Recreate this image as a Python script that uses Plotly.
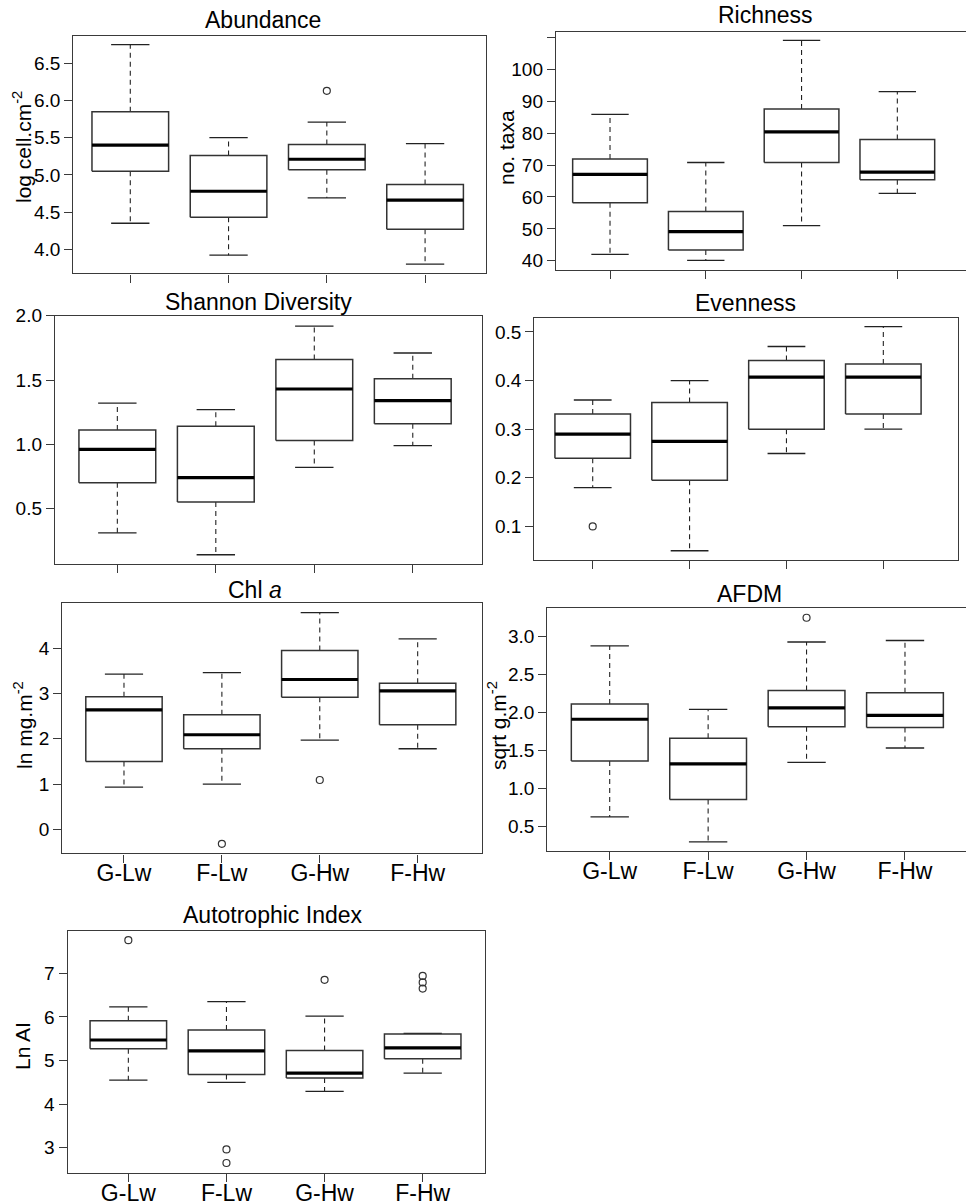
import plotly.graph_objects as go

W, H = 966, 1204
groups = ["G-Lw", "F-Lw", "G-Hw", "F-Hw"]

# ---------------- data ----------------
abund_lo = [4.35, 3.92, 4.69, 3.80]
abund_q1 = [5.05, 4.43, 5.07, 4.27]
abund_med = [5.40, 4.78, 5.21, 4.66]
abund_q3 = [5.85, 5.26, 5.41, 4.87]
abund_hi = [6.75, 5.50, 5.71, 5.42]
abund_out = [[], [], [6.13], []]

rich_lo = [42.0, 40.1, 51.0, 61.1]
rich_q1 = [58.2, 43.4, 70.8, 65.4]
rich_med = [67.1, 49.1, 80.4, 67.8]
rich_q3 = [71.9, 55.4, 87.6, 78.0]
rich_hi = [85.9, 70.8, 109.1, 93.0]
rich_out = [[], [], [], []]

shan_lo = [0.31, 0.14, 0.82, 0.99]
shan_q1 = [0.70, 0.55, 1.03, 1.16]
shan_med = [0.96, 0.74, 1.43, 1.34]
shan_q3 = [1.11, 1.14, 1.66, 1.51]
shan_hi = [1.32, 1.27, 1.92, 1.71]
shan_out = [[], [], [], []]

even_lo = [0.18, 0.05, 0.25, 0.30]
even_q1 = [0.24, 0.195, 0.30, 0.331]
even_med = [0.29, 0.275, 0.407, 0.407]
even_q3 = [0.331, 0.355, 0.441, 0.434]
even_hi = [0.36, 0.40, 0.47, 0.511]
even_out = [[0.10], [], [], []]

chl_lo = [0.93, 1.00, 1.97, 1.78]
chl_q1 = [1.50, 1.78, 2.92, 2.31]
chl_med = [2.64, 2.09, 3.31, 3.06]
chl_q3 = [2.93, 2.53, 3.95, 3.23]
chl_hi = [3.43, 3.46, 4.79, 4.21]
chl_out = [[], [-0.32], [1.09], []]

afdm_lo = [0.62, 0.29, 1.34, 1.53]
afdm_q1 = [1.36, 0.85, 1.81, 1.80]
afdm_med = [1.91, 1.32, 2.06, 1.96]
afdm_q3 = [2.11, 1.66, 2.29, 2.26]
afdm_hi = [2.88, 2.04, 2.93, 2.95]
afdm_out = [[], [], [3.25], []]

ai_lo = [4.55, 4.50, 4.29, 4.71]
ai_q1 = [5.27, 4.68, 4.60, 5.04]
ai_med = [5.47, 5.22, 4.71, 5.29]
ai_q3 = [5.91, 5.70, 5.23, 5.61]
ai_hi = [6.23, 6.35, 6.02, 5.62]
ai_out = [[7.76], [2.96, 2.65], [6.85], [6.94, 6.79, 6.65]]

abund_ticks = [4.0, 4.5, 5.0, 5.5, 6.0, 6.5]
rich_ticks = [40, 50, 60, 70, 80, 90, 100]
rich_minor_ticks = [110]
shan_ticks = [0.5, 1.0, 1.5, 2.0]
even_ticks = [0.1, 0.2, 0.3, 0.4, 0.5]
chl_ticks = [0, 1, 2, 3, 4]
afdm_ticks = [0.5, 1.0, 1.5, 2.0, 2.5, 3.0]
ai_ticks = [3, 4, 5, 6, 7]

titles = ["Abundance", "Richness", "Shannon Diversity", "Evenness",
          "Chl <i>a</i>", "AFDM", "Autotrophic Index"]
ytitles = ["log cell.cm<sup>-2</sup>", "no. taxa", "", "",
           "ln mg.m<sup>-2</sup>", "sqrt g.m<sup>-2</sup>", "Ln AI"]

# ---------------- layout geometry (pixels) ----------------
panels = [
    dict(data=(abund_lo, abund_q1, abund_med, abund_q3, abund_hi, abund_out),
         L=73.3, R=486, T=36, B=273.3, xr=[0.42, 4.62], yr=[3.677, 6.867],
         tv=abund_ticks, minor=None, fmt=".1f", xlab=False, right=True,
         title_xy=(263, 20), ytitle_xy=(22, 147)),
    dict(data=(rich_lo, rich_q1, rich_med, rich_q3, rich_hi, rich_out),
         L=556, R=966, T=31.7, B=270, xr=[0.436, 4.717], yr=[37.1, 111.8],
         tv=rich_ticks, minor=rich_minor_ticks, fmt="d", xlab=False, right=False,
         title_xy=(765, 15), ytitle_xy=(506, 148)),
    dict(data=(shan_lo, shan_q1, shan_med, shan_q3, shan_hi, shan_out),
         L=55, R=481.7, T=315.5, B=564, xr=[0.367, 4.70], yr=[0.068, 2.002],
         tv=shan_ticks, minor=None, fmt=".1f", xlab=False, right=True,
         title_xy=(258, 302), ytitle_xy=None),
    dict(data=(even_lo, even_q1, even_med, even_q3, even_hi, even_out),
         L=534.3, R=958.3, T=318.3, B=560, xr=[0.397, 4.774], yr=[0.031, 0.528],
         tv=even_ticks, minor=None, fmt=".1f", xlab=False, right=True,
         title_xy=(745, 303), ytitle_xy=None),
    dict(data=(chl_lo, chl_q1, chl_med, chl_q3, chl_hi, chl_out),
         L=62.3, R=481.7, T=603.3, B=853.3, xr=[0.370, 4.654], yr=[-0.53, 4.994],
         tv=chl_ticks, minor=None, fmt="d", xlab=True, right=True,
         title_xy=(255, 590), ytitle_xy=(23, 725)),
    dict(data=(afdm_lo, afdm_q1, afdm_med, afdm_q3, afdm_hi, afdm_out),
         L=547.3, R=966, T=608.3, B=851, xr=[0.366, 4.62], yr=[0.17, 3.375],
         tv=afdm_ticks, minor=None, fmt=".1f", xlab=True, right=False,
         title_xy=(749, 594), ytitle_xy=(497, 725)),
    dict(data=(ai_lo, ai_q1, ai_med, ai_q3, ai_hi, ai_out),
         L=67.7, R=485, T=930.7, B=1172.7, xr=[0.382, 4.635], yr=[2.427, 7.977],
         tv=ai_ticks, minor=None, fmt="d", xlab=True, right=True,
         title_xy=(273, 915), ytitle_xy=(22, 1046)),
]

FONT = "Liberation Sans, Arial, sans-serif"
FRAME = "#3a3a3a"
HW = 0.39   # half box width (axis units)
CW = 0.195  # half staple width

fig = go.Figure()
layout = {}
annotations = []

for i, p in enumerate(panels, start=1):
    lo, q1, med, q3, hi, outs = p["data"]
    xs = "x" if i == 1 else f"x{i}"
    ys = "y" if i == 1 else f"y{i}"
    pos = list(range(1, len(groups) + 1))

    bx, by, mx, my, wx, wy, cx, cy, ox, oy = [], [], [], [], [], [], [], [], [], []
    for k, c in enumerate(pos):
        bx += [c - HW, c + HW, c + HW, c - HW, c - HW, None]
        by += [q1[k], q1[k], q3[k], q3[k], q1[k], None]
        mx += [c - HW, c + HW, None]
        my += [med[k], med[k], None]
        wx += [c, c, None, c, c, None]
        wy += [q3[k], hi[k], None, q1[k], lo[k], None]
        cx += [c - CW, c + CW, None, c - CW, c + CW, None]
        cy += [hi[k], hi[k], None, lo[k], lo[k], None]
        for v in outs[k]:
            ox.append(c)
            oy.append(v)

    common = dict(xaxis=xs, yaxis=ys, showlegend=False, hoverinfo="skip")
    fig.add_trace(go.Scatter(x=wx, y=wy, mode="lines",
                             line=dict(color="#222", width=1.1, dash="5px,4px"), **common))
    fig.add_trace(go.Scatter(x=cx, y=cy, mode="lines",
                             line=dict(color="#222", width=1.3), **common))
    fig.add_trace(go.Scatter(x=bx, y=by, mode="lines", fill="toself", fillcolor="white",
                             line=dict(color="#333", width=1.5), **common))
    fig.add_trace(go.Scatter(x=mx, y=my, mode="lines",
                             line=dict(color="black", width=3.2), **common))
    if ox:
        fig.add_trace(go.Scatter(x=ox, y=oy, mode="markers",
                                 marker=dict(symbol="circle-open", size=7,
                                             color="#333", line=dict(width=1.2)), **common))

    xkey = "xaxis" if i == 1 else f"xaxis{i}"
    ykey = "yaxis" if i == 1 else f"yaxis{i}"
    layout[xkey] = dict(
        domain=[p["L"] / W, min(p["R"] / W, 1.0)], range=p["xr"], anchor=ys,
        automargin=False,
        tickmode="array", tickvals=pos, ticktext=groups,
        showticklabels=p["xlab"], ticks="outside", ticklen=8, tickwidth=1.2,
        ticklabelstandoff=-9,
        tickcolor=FRAME, showline=True, mirror=True, linecolor=FRAME, linewidth=1.4,
        showgrid=False, zeroline=False, fixedrange=True,
        tickfont=dict(family=FONT, size=23, color="black"),
    )
    yax = dict(
        domain=[1 - p["B"] / H, 1 - p["T"] / H], range=p["yr"], anchor=xs,
        automargin=False,
        tickmode="array", tickvals=p["tv"],
        ticktext=[f"{v:.1f}" if p["fmt"] == ".1f" else str(v) for v in p["tv"]],
        ticks="outside", ticklen=8, tickwidth=1.2, tickcolor=FRAME,
        showline=True, mirror=p["right"], linecolor=FRAME, linewidth=1.4,
        showgrid=False, zeroline=False, fixedrange=True,
        tickfont=dict(family=FONT, size=19, color="black"),
    )
    if p["minor"] is not None:
        yax["minor"] = dict(tickmode="array", tickvals=p["minor"], ticks="outside",
                            ticklen=8, tickwidth=1.2, tickcolor=FRAME, showgrid=False)
    layout[ykey] = yax

    tx, ty = p["title_xy"]
    annotations.append(dict(text=titles[i - 1], x=tx / W, y=1 - ty / H,
                            xref="paper", yref="paper", xanchor="center", yanchor="middle",
                            showarrow=False, font=dict(family=FONT, size=23, color="black")))
    if p["ytitle_xy"] is not None:
        ax_, ay_ = p["ytitle_xy"]
        annotations.append(dict(text=ytitles[i - 1], x=ax_ / W, y=1 - ay_ / H,
                                xref="paper", yref="paper", xanchor="center", yanchor="middle",
                                textangle=-90, showarrow=False,
                                font=dict(family=FONT, size=21, color="black")))

fig.update_layout(
    width=W, height=H, margin=dict(l=0, r=0, t=0, b=0, autoexpand=False),
    paper_bgcolor="white", plot_bgcolor="white",
    annotations=annotations, **layout,
)

fig.write_html("out.html")
